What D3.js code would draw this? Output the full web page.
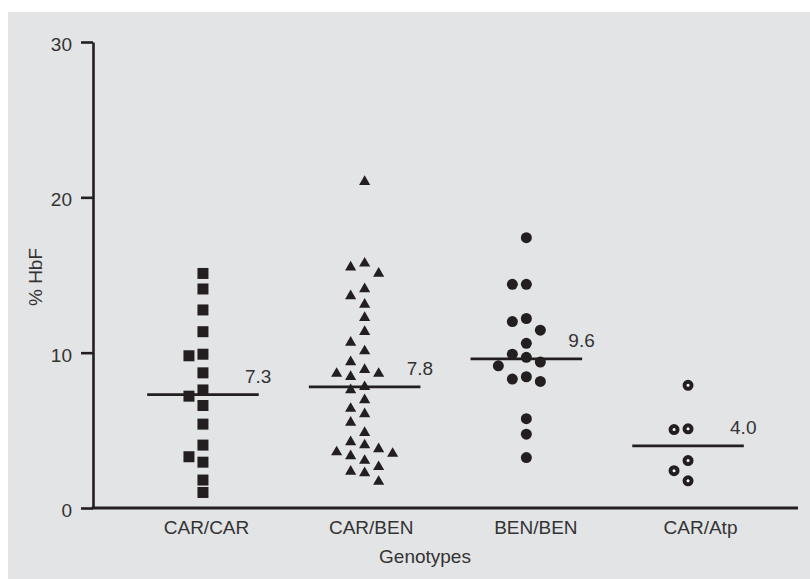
<!DOCTYPE html>
<html>
<head>
<meta charset="utf-8">
<script src="https://cdn.jsdelivr.net/npm/d3@7"></script>
<style>
  body { margin: 0; background: #fff; }
  text { font-family: "Liberation Sans", Arial, sans-serif; fill: #333; }
</style>
</head>
<body>
<div id="chart"></div>
<script>
// categories and values
const genotypes = ['CAR/CAR', 'CAR/BEN', 'BEN/BEN', 'CAR/Atp'];
const carCar = [15.1, 14.1, 12.75, 11.35, 9.8, 9.9, 8.7, 7.6, 7.2, 6.6, 5.4, 4.05, 3.3, 2.95, 1.8, 1.0];
const carBen = [21.0, 15.5, 15.75, 15.1, 14.1, 13.65, 13.1, 12.25, 11.35, 10.65, 10.1, 9.4,
                8.9, 8.65, 8.45, 8.65, 7.8, 7.6, 6.95, 6.4, 6.05, 5.5, 4.85, 4.25, 4.05,
                3.8, 3.6, 3.5, 3.35, 3.05, 2.65, 2.35, 2.25, 1.7];
const benBen = [17.4, 14.4, 14.4, 12.2, 12.0, 11.45, 10.6, 9.9, 9.7, 9.4, 9.15, 8.45, 8.3, 8.15, 5.75, 4.75, 3.25];
const carAtp = [7.9, 5.1, 5.05, 3.05, 2.4, 1.75];
const means = [7.3, 7.8, 9.6, 4.0];
const meanLabels = ['7.3', '7.8', '9.6', '4.0'];
const yTicks = [0, 10, 20, 30];

const width = 810;
const height = 579;
const ink = '#231f20';
const fontSize = '19px';

const svg = d3.select('#chart')
              .append('svg')
              .attr('width', width)
              .attr('height', height);

// grey panel
svg.append('rect')
   .attr('x', 8)
   .attr('y', 12)
   .attr('width', width - 8)
   .attr('height', height - 12)
   .attr('fill', '#e3e4e6');

const plotLeft = 93;
const plotRight = 798;

const yScale = d3.scaleLinear()
                 .domain([0, 30])
                 .range([508, 42]);

const xScale = d3.scalePoint()
                 .domain(genotypes)
                 .range([plotLeft, plotRight])
                 .padding(0.68);

// tick labels sit a little right of the point columns in the original
const labelScale = d3.scalePoint()
                     .domain(genotypes)
                     .range([206, 700]);

// y axis
const yAxis = svg.append('g')
                 .attr('transform', `translate(${plotLeft}, 0)`)
                 .call(
                   d3.axisLeft(yScale)
                     .tickValues(yTicks)
                     .tickSize(12)
                     .tickSizeOuter(0)
                     .tickPadding(9)
                 );
yAxis.selectAll('path, line')
     .attr('stroke', ink)
     .attr('stroke-width', 2.6);
yAxis.selectAll('text')
     .style('font-size', fontSize)
     .attr('dy', '0.45em');

// x axis line
svg.append('line')
   .attr('x1', plotLeft - 1.3)
   .attr('x2', plotRight)
   .attr('y1', yScale(0))
   .attr('y2', yScale(0))
   .attr('stroke', ink)
   .attr('stroke-width', 2.8);

const xAxis = svg.append('g')
                 .attr('transform', `translate(0, ${yScale(0)})`)
                 .call(
                   d3.axisBottom(labelScale)
                     .tickSize(0)
                     .tickPadding(13)
                 );
xAxis.select('.domain').remove();
xAxis.selectAll('text')
     .style('font-size', fontSize);

// axis titles
svg.append('text')
   .attr('x', 425)
   .attr('y', 563)
   .attr('text-anchor', 'middle')
   .style('font-size', fontSize)
   .text('Genotypes');

svg.append('text')
   .attr('transform', 'translate(42, 277) rotate(-90)')
   .attr('text-anchor', 'middle')
   .style('font-size', fontSize)
   .text('% HbF');

// simple dodge layout: highest values first, move sideways on overlap
const laneGap = 14;
const minGap = 12;
function dodge(values, cx) {
  const placed = [];
  const lanes = [0, -1, 1, -2, 2, -3, 3];
  return values.slice().sort((a, b) => b - a).map(v => {
    const y = yScale(v);
    for (const k of lanes) {
      const x = cx + k * laneGap;
      const hit = placed.some(p => Math.abs(p.x - x) < 1 && Math.abs(p.y - y) < minGap);
      if (!hit) {
        placed.push({x, y});
        return {v, x, y};
      }
    }
    return {v, x: cx, y};
  });
}

const groups = [carCar, carBen, benBen, carAtp];
const symbols = [d3.symbolSquare, d3.symbolTriangle, d3.symbolCircle, null];
const sizes = [121, 54, 95, 0];

groups.forEach((values, i) => {
  const pts = dodge(values, xScale(genotypes[i]));
  const g = svg.append('g');
  if (symbols[i]) {
    g.selectAll('path')
     .data(pts)
     .join('path')
     .attr('transform', d => `translate(${d.x}, ${d.y})`)
     .attr('d', d3.symbol(symbols[i], sizes[i]))
     .attr('fill', ink);
  } else {
    g.selectAll('circle')
     .data(pts)
     .join('circle')
     .attr('cx', d => d.x)
     .attr('cy', d => d.y)
     .attr('r', 3.5)
     .attr('fill', '#fff')
     .attr('stroke', ink)
     .attr('stroke-width', 4);
  }
});

// mean lines and labels
const halfLine = xScale.step() * 0.345;
svg.append('g')
   .selectAll('line')
   .data(means)
   .join('line')
   .attr('x1', (d, i) => xScale(genotypes[i]) - halfLine)
   .attr('x2', (d, i) => xScale(genotypes[i]) + halfLine)
   .attr('y1', d => yScale(d))
   .attr('y2', d => yScale(d))
   .attr('stroke', ink)
   .attr('stroke-width', 2.8);

svg.append('g')
   .selectAll('text')
   .data(means)
   .join('text')
   .attr('x', (d, i) => xScale(genotypes[i]) + 42)
   .attr('y', d => yScale(d) - 12)
   .style('font-size', fontSize)
   .text((d, i) => meanLabels[i]);
</script>
</body>
</html>
